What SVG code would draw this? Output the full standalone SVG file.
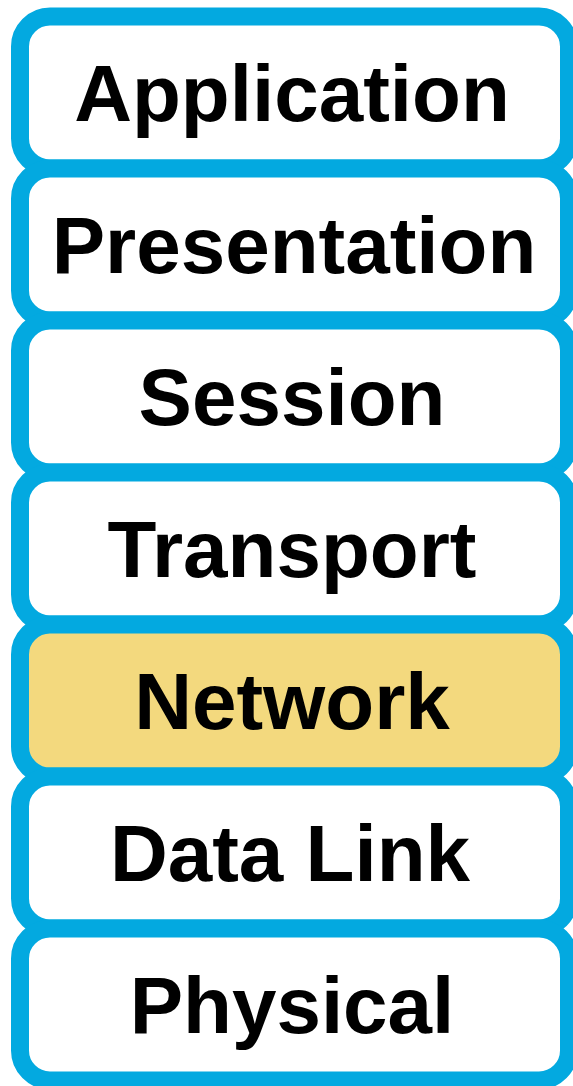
<svg xmlns="http://www.w3.org/2000/svg" width="573" height="1086" viewBox="0 0 573 1086">
<style>
.box{fill:#ffffff;stroke:#03A9E0;stroke-width:18}
.hl{fill:#F3D97E}
.lbl{font-family:"Liberation Sans",Arial,sans-serif;font-weight:bold;font-size:80px;fill:#000;text-anchor:middle}
</style>
<rect width="573" height="1086" fill="#ffffff"/>
<g id="application"><rect class="box" x="20" y="16.5" width="549" height="152" rx="30"/><text class="lbl" x="292" y="121">Application</text></g>
<g id="presentation"><rect class="box" x="20" y="168.5" width="549" height="152" rx="30"/><text class="lbl" x="294" y="273" font-size="79">Presentation</text></g>
<g id="session"><rect class="box" x="20" y="320.5" width="549" height="152" rx="30"/><text class="lbl" x="292" y="425">Session</text></g>
<g id="transport"><rect class="box" x="20" y="472.5" width="549" height="152" rx="30"/><text class="lbl" x="292" y="577">Transport</text></g>
<g id="network"><rect class="box hl" x="20" y="624.5" width="549" height="152" rx="30"/><text class="lbl" x="292" y="729">Network</text></g>
<g id="datalink"><rect class="box" x="20" y="776.5" width="549" height="152" rx="30"/><text class="lbl" x="290" y="881">Data Link</text></g>
<g id="physical"><rect class="box" x="20" y="928.5" width="549" height="152" rx="30"/><text class="lbl" x="292" y="1033">Physical</text></g>
<g id="connectors"/>
</svg>
